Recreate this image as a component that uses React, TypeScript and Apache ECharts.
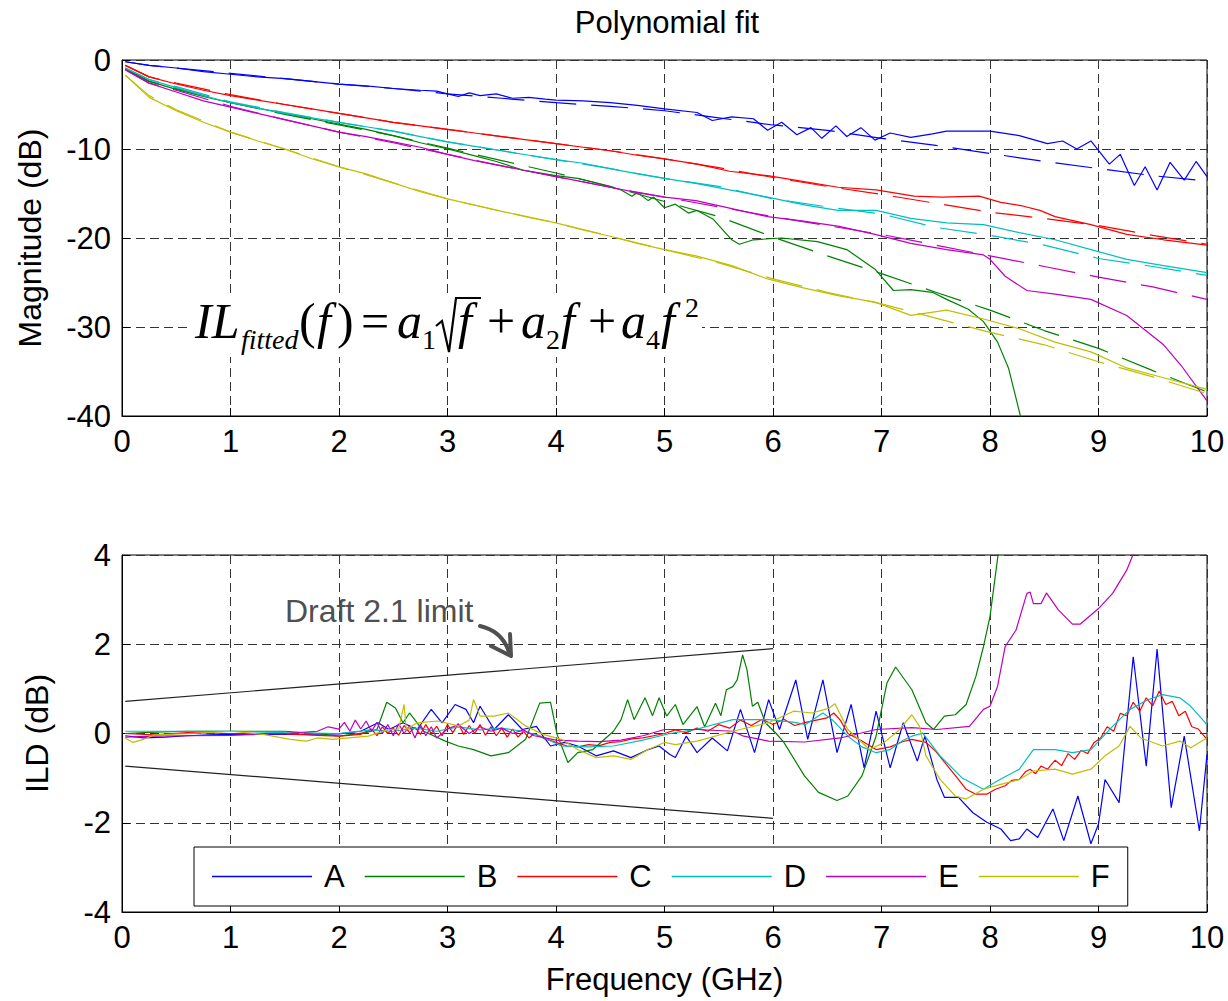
import React, { useEffect, useRef } from "react";
import * as echarts from "echarts";

// ---------- data ----------
const seriesNames = ["A", "B", "C", "D", "E", "F"];
const seriesColors = ["#0000ff", "#008000", "#ff0000", "#00bfbf", "#bf00bf", "#bfbf00"];
const xTicks = [0, 1, 2, 3, 4, 5, 6, 7, 8, 9, 10];
const magTicks = [-40, -30, -20, -10, 0];
const ildTicks = [-4, -2, 0, 2, 4];

// Measured insertion loss (dB) vs frequency (GHz)
const measA: [number, number][] = [
  [0.03, -0.2], [0.25, -0.6], [0.5, -0.9], [0.75, -1.3], [1, -1.6], [1.25, -1.9], [1.5, -2.1], [1.75, -2.4],
  [2, -2.7], [2.25, -2.9], [2.5, -3.2], [2.75, -3.4], [2.9, -3.5], [3.0, -3.8], [3.1, -4.1], [3.2, -3.7],
  [3.3, -4.0], [3.45, -3.8], [3.6, -4.3], [3.75, -4.2], [3.9, -4.4], [4, -4.5], [4.25, -4.6], [4.5, -4.8],
  [4.75, -5.1], [5, -5.5], [5.3, -5.9], [5.44, -6.8], [5.62, -6.4], [5.82, -6.6], [5.95, -7.9], [6.08, -7.0],
  [6.22, -8.4], [6.35, -7.6], [6.45, -8.8], [6.58, -7.4], [6.68, -8.6], [6.81, -7.6], [6.94, -9.0], [7.08, -8.2],
  [7.27, -8.7], [7.47, -8.3], [7.6, -8.0], [8.0, -8.0], [8.27, -8.5], [8.53, -9.4], [8.67, -9.1], [8.8, -10.0],
  [8.93, -9.1], [9.1, -11.7], [9.2, -10.6], [9.33, -14.1], [9.43, -12.0], [9.54, -14.6], [9.66, -11.5],
  [9.79, -13.5], [9.9, -11.4], [10, -13.1],
];
const measB: [number, number][] = [
  [0.03, -1.0], [0.25, -2.4], [0.5, -3.3], [0.75, -4.1], [1, -4.8], [1.25, -5.4], [1.5, -6.0], [1.75, -6.6],
  [2, -7.2], [2.25, -7.8], [2.5, -8.5], [2.75, -9.3], [3, -10.0], [3.2, -10.6], [3.45, -11.4], [3.7, -12.4],
  [3.9, -12.8], [4, -13.0], [4.2, -13.3], [4.4, -13.9], [4.6, -14.6], [4.7, -15.3], [4.75, -14.9], [4.85, -15.8],
  [4.9, -15.4], [5.0, -16.6], [5.1, -16.2], [5.22, -17.2], [5.3, -16.9], [5.45, -17.9], [5.62, -20.2],
  [5.69, -20.7], [5.82, -20.2], [6.08, -20.0], [6.41, -20.4], [6.68, -21.3], [6.94, -23.5], [7.11, -25.9],
  [7.27, -25.8], [7.47, -26.1], [7.6, -26.9], [7.8, -28.0], [7.94, -29.4], [8.07, -31.7], [8.17, -34.6],
  [8.25, -38.5], [8.3, -41.0],
];
const measC: [number, number][] = [
  [0.03, -0.6], [0.25, -1.9], [0.5, -2.7], [0.75, -3.4], [1, -4.0], [1.25, -4.5], [1.5, -5.0], [1.75, -5.5],
  [2, -6.0], [2.25, -6.5], [2.5, -7.0], [2.75, -7.4], [3, -7.8], [3.25, -8.2], [3.5, -8.6], [3.75, -9.0],
  [4, -9.4], [4.25, -9.8], [4.5, -10.2], [4.75, -10.7], [5, -11.1], [5.3, -11.7], [5.6, -12.5], [5.95, -13.0],
  [6.3, -13.7], [6.6, -14.3], [6.95, -14.6], [7.3, -15.3], [7.55, -15.4], [7.9, -15.3], [8.1, -16.0],
  [8.3, -16.4], [8.46, -16.9], [8.6, -17.6], [8.93, -18.5], [9.26, -19.6], [9.6, -20.2], [10, -20.8],
];
const measD: [number, number][] = [
  [0.03, -0.9], [0.25, -2.2], [0.5, -3.1], [0.75, -4.0], [1, -4.8], [1.25, -5.4], [1.5, -6.0], [1.75, -6.5],
  [2, -7.0], [2.25, -7.5], [2.5, -8.0], [2.75, -8.6], [3, -9.2], [3.25, -9.7], [3.5, -10.2], [3.75, -10.7],
  [4, -11.2], [4.25, -11.6], [4.5, -12.2], [4.75, -12.8], [5, -13.3], [5.3, -13.9], [5.6, -14.6], [5.95, -15.4],
  [6.3, -16.3], [6.6, -16.9], [6.95, -16.9], [7.27, -17.8], [7.6, -18.3], [7.94, -18.5], [8.27, -19.4],
  [8.6, -20.2], [8.93, -21.3], [9.26, -22.4], [9.6, -23.1], [10, -23.9],
];
const measE: [number, number][] = [
  [0.03, -1.1], [0.25, -2.6], [0.5, -3.6], [0.75, -4.6], [1, -5.3], [1.25, -6.0], [1.5, -6.7], [1.75, -7.4],
  [2, -8.1], [2.25, -8.6], [2.5, -9.2], [2.75, -9.8], [3, -10.6], [3.25, -11.3], [3.5, -11.9], [3.75, -12.5],
  [4, -13.1], [4.25, -13.7], [4.5, -14.3], [4.75, -14.9], [5, -15.4], [5.29, -15.8], [5.62, -16.7],
  [5.95, -17.6], [6.28, -18.1], [6.61, -18.7], [6.94, -19.6], [7.27, -20.6], [7.6, -21.3], [7.94, -21.9],
  [8.0, -22.4], [8.14, -24.3], [8.34, -25.9], [8.6, -26.3], [8.93, -26.9], [9.26, -28.7], [9.6, -32.0],
  [9.76, -34.3], [10, -38.3],
];
const measF: [number, number][] = [
  [0.03, -1.7], [0.25, -4.2], [0.5, -5.7], [0.75, -7.0], [1, -8.1], [1.25, -9.1], [1.5, -10.0], [1.75, -11.1],
  [2, -12.0], [2.25, -12.8], [2.5, -13.8], [2.75, -14.8], [3, -15.6], [3.25, -16.3], [3.5, -17.0],
  [3.75, -17.7], [4, -18.3], [4.25, -19.1], [4.5, -19.8], [4.75, -20.6], [5, -21.3], [5.29, -22.0],
  [5.62, -23.1], [5.95, -24.6], [6.28, -25.6], [6.61, -26.5], [6.94, -27.2], [7.27, -28.7], [7.6, -28.1],
  [7.94, -29.1], [8.27, -30.2], [8.6, -31.7], [8.93, -32.8], [9.26, -34.6], [9.6, -35.7], [10, -37.0],
];

// Polynomial fits (dB)
const fitA: [number, number][] = [
  [0.03, -0.2], [0.25, -0.6], [0.5, -0.9], [1, -1.5], [1.5, -2.1], [2, -2.7], [2.5, -3.2], [3, -3.8],
  [3.5, -4.3], [4, -4.8], [4.5, -5.2], [5, -5.7], [5.5, -6.5], [6, -7.3], [6.5, -7.9], [7, -8.8],
  [7.5, -9.6], [8, -10.5], [8.5, -11.4], [9, -12.2], [9.5, -13.0], [10, -13.6],
];
const fitB: [number, number][] = [
  [0.03, -1.0], [0.25, -2.4], [0.5, -3.2], [1, -4.8], [1.5, -6.1], [2, -7.3], [2.5, -8.5], [3, -9.9],
  [3.5, -11.3], [4, -12.7], [4.5, -14.2], [5, -15.9], [5.5, -17.6], [6, -19.9], [6.5, -22.0], [7, -24.0],
  [7.5, -26.1], [8, -28.1], [8.5, -30.4], [9, -32.4], [9.5, -34.9], [10, -37.3],
];
const fitC: [number, number][] = [
  [0.03, -0.6], [0.25, -1.9], [0.5, -2.6], [1, -3.9], [1.5, -5.0], [2, -6.0], [2.5, -7.0], [3, -7.8],
  [3.5, -8.6], [4, -9.4], [4.5, -10.2], [5, -11.1], [5.5, -12.1], [6, -13.2], [6.5, -14.2], [7, -15.1],
  [7.5, -16.1], [8, -17.1], [8.5, -17.8], [9, -18.6], [9.5, -19.7], [10, -20.7],
];
const fitD: [number, number][] = [
  [0.03, -0.9], [0.25, -2.2], [0.5, -3.0], [1, -4.7], [1.5, -5.9], [2, -7.0], [2.5, -8.0], [3, -9.2],
  [3.5, -10.2], [4, -11.2], [4.5, -12.2], [5, -13.3], [5.5, -14.2], [6, -15.6], [6.5, -16.5], [7, -17.3],
  [7.5, -18.8], [8, -19.7], [8.5, -20.8], [9, -22.3], [9.5, -23.2], [10, -24.2],
];
const fitE: [number, number][] = [
  [0.03, -1.1], [0.25, -2.6], [0.5, -3.4], [1, -5.2], [1.5, -6.7], [2, -8.1], [2.5, -9.3], [3, -10.6],
  [3.5, -11.9], [4, -13.1], [4.5, -14.3], [5, -15.4], [5.5, -16.5], [6, -17.6], [6.5, -18.6], [7, -19.6],
  [7.5, -20.8], [8, -22.0], [8.5, -23.2], [9, -24.4], [9.5, -25.5], [10, -26.9],
];
const fitF: [number, number][] = [
  [0.03, -1.7], [0.25, -4.0], [0.5, -5.6], [1, -8.1], [1.5, -10.0], [2, -12.0], [2.5, -13.8], [3, -15.6],
  [3.5, -17.0], [4, -18.3], [4.5, -19.8], [5, -21.3], [5.5, -22.8], [6, -24.6], [6.5, -26.1], [7, -27.4],
  [7.5, -29.0], [8, -30.6], [8.5, -32.0], [9, -33.9], [9.5, -35.6], [10, -37.5],
];

// Insertion loss deviation (dB)
const ildA: [number, number][] = [
  [0.03, -0.05], [0.2, -0.1], [0.4, -0.08], [0.6, -0.05], [0.8, -0.03], [1, -0.02], [1.5, -0.02], [2, -0.01],
  [2.2, 0.05], [2.36, 0.24], [2.46, 0.09], [2.59, 0.24], [2.72, 0.09], [2.85, 0.54], [2.95, 0.24], [3.07, 0.65],
  [3.17, 0.54], [3.24, 0.24], [3.3, 0.61], [3.43, 0.09], [3.56, 0.42], [3.69, 0.09], [3.82, 0.16], [3.88, -0.06],
  [3.95, -0.28], [4.08, -0.2], [4.2, -0.28], [4.37, -0.5], [4.53, -0.39], [4.69, -0.54], [4.85, -0.36],
  [4.95, -0.28], [5.05, -0.47], [5.1, -0.54], [5.2, -0.06], [5.3, -0.43], [5.44, -0.1], [5.58, -0.39],
  [5.7, 0.54], [5.83, -0.43], [5.96, 0.76], [6.06, 0.09], [6.21, 1.2], [6.32, -0.13], [6.46, 1.2], [6.59, -0.43],
  [6.72, 0.65], [6.84, -0.77], [6.95, 0.5], [7.08, -0.77], [7.2, 0.24], [7.33, -0.62], [7.4, -0.06],
  [7.51, -1.03], [7.58, -1.43], [7.71, -1.43], [7.84, -1.77], [7.97, -1.99], [8.1, -2.14], [8.19, -2.4],
  [8.27, -2.36], [8.34, -2.14], [8.44, -2.33], [8.58, -1.69], [8.68, -2.4], [8.81, -1.4], [8.93, -2.47],
  [9.0, -2.03], [9.06, -1.03], [9.19, -1.55], [9.32, 1.72], [9.44, -0.73], [9.54, 1.89], [9.67, -1.66],
  [9.79, -0.06], [9.93, -2.18], [10, -0.47],
];
const ildB: [number, number][] = [
  [0.03, 0.0], [0.3, 0.03], [0.6, 0.05], [1, 0.05], [1.5, 0.05], [1.8, 0.0], [2.0, -0.06], [2.25, 0.02],
  [2.35, 0.09], [2.44, 0.7], [2.52, 0.57], [2.59, 0.24], [2.65, 0.46], [2.78, 0.05], [2.98, -0.17], [3.1, -0.28],
  [3.24, -0.36], [3.4, -0.5], [3.56, -0.43], [3.72, -0.13], [3.85, 0.68], [3.95, 0.7], [4.01, -0.02],
  [4.11, -0.65], [4.2, -0.43], [4.34, -0.36], [4.53, 0.05], [4.6, 0.31], [4.66, 0.76], [4.72, 0.31], [4.82, 0.8],
  [4.89, 0.4], [4.95, 0.8], [5.02, 0.39], [5.1, 0.65], [5.17, 0.2], [5.3, 0.6], [5.37, 0.15], [5.47, 0.68],
  [5.52, 0.4], [5.57, 0.98], [5.63, 1.05], [5.67, 1.2], [5.72, 1.76], [5.76, 1.43], [5.81, 0.61], [5.86, 0.7],
  [5.93, 0.24], [6.03, 0], [6.1, -0.2], [6.29, -0.95], [6.42, -1.32], [6.59, -1.5], [6.69, -1.4], [6.82, -0.95],
  [6.95, -0.06], [7.05, 1.13], [7.13, 1.49], [7.28, 0.98], [7.41, 0.24], [7.48, 0.09], [7.58, 0.39],
  [7.68, 0.42], [7.78, 0.65], [7.87, 1.28], [7.94, 1.95], [8.0, 2.62], [8.09, 4.3],
];
const ildC: [number, number][] = [
  [0.03, 0.0], [0.3, -0.03], [0.6, 0.02], [1, 0.0], [1.4, 0.0], [1.8, -0.04], [2.0, -0.06], [2.2, -0.02],
  [2.3, 0.1], [2.35, -0.05], [2.4, 0.15], [2.45, 0.0], [2.5, 0.12], [2.55, -0.04], [2.6, 0.18], [2.65, 0.02],
  [2.7, 0.14], [2.75, -0.02], [2.8, 0.2], [2.85, 0.0], [2.9, 0.16], [2.95, -0.05], [3.0, 0.2], [3.05, 0.02],
  [3.1, 0.22], [3.15, -0.02], [3.2, 0.18], [3.25, 0.0], [3.3, 0.2], [3.35, -0.04], [3.4, 0.15], [3.45, -0.05],
  [3.5, 0.12], [3.55, -0.08], [3.6, 0.1], [3.65, -0.08], [3.7, 0.05], [3.75, -0.1], [3.8, 0.0], [3.9, -0.12],
  [4.0, -0.2], [4.1, -0.28], [4.2, -0.3], [4.3, -0.25], [4.4, -0.27], [4.5, -0.2], [4.6, -0.18], [4.7, -0.12],
  [4.8, -0.1], [4.9, -0.05], [5.0, 0.0], [5.1, 0.08], [5.2, 0.02], [5.3, 0.12], [5.4, 0.05], [5.5, 0.2],
  [5.6, 0.12], [5.7, 0.3], [5.8, 0.18], [5.9, 0.32], [6.0, 0.2], [6.1, 0.32], [6.2, 0.18], [6.3, 0.25],
  [6.4, 0.3], [6.5, 0.35], [6.56, 0.46], [6.62, 0.3], [6.69, 0.0], [6.82, -0.17], [6.95, -0.36], [7.08, -0.3],
  [7.2, -0.18], [7.28, -0.13], [7.41, -0.2], [7.5, -0.4], [7.61, -0.73], [7.7, -1.0], [7.78, -1.25],
  [7.87, -1.36], [7.97, -1.36], [8.05, -1.25], [8.14, -1.17], [8.2, -1.05], [8.27, -1.03], [8.33, -0.85],
  [8.37, -0.8], [8.42, -0.9], [8.47, -0.73], [8.53, -0.8], [8.6, -0.6], [8.66, -0.72], [8.72, -0.45],
  [8.78, -0.58], [8.84, -0.38], [8.9, -0.45], [8.96, -0.2], [9.02, -0.1], [9.08, 0.15], [9.14, 0.05],
  [9.2, 0.45], [9.26, 0.4], [9.32, 0.7], [9.38, 0.5], [9.44, 0.8], [9.5, 0.62], [9.56, 0.95], [9.62, 0.65],
  [9.68, 0.72], [9.74, 0.4], [9.8, 0.5], [9.86, 0.15], [9.92, 0.1], [10, -0.13],
];
const ildD: [number, number][] = [
  [0.03, 0.05], [0.5, 0.05], [1, 0.05], [1.5, 0.02], [2, 0.0], [2.3, 0.08], [2.5, 0.05], [2.7, 0.12],
  [2.9, 0.05], [3.1, 0.15], [3.3, 0.08], [3.5, 0.12], [3.7, 0.05], [3.85, -0.05], [4.05, -0.28], [4.3, -0.3],
  [4.53, -0.28], [4.8, -0.15], [5.05, 0.0], [5.3, 0.1], [5.63, 0.31], [5.96, 0.31], [6.2, 0.25], [6.3, 0.2],
  [6.46, 0.46], [6.55, 0.3], [6.69, -0.06], [6.82, -0.3], [6.95, -0.43], [7.08, -0.36], [7.2, -0.15],
  [7.28, -0.06], [7.38, 0.01], [7.54, -0.5], [7.74, -0.99], [7.94, -1.25], [8.07, -1.06], [8.27, -0.8],
  [8.4, -0.36], [8.6, -0.36], [8.76, -0.43], [8.93, -0.36], [9.13, 0.16], [9.29, 0.54], [9.45, 0.75],
  [9.59, 0.87], [9.75, 0.8], [9.85, 0.61], [10, 0.2],
];
const ildE: [number, number][] = [
  [0.03, -0.08], [0.3, -0.06], [0.6, -0.05], [1, -0.04], [1.5, 0.0], [1.8, 0.05], [1.9, 0.15], [2.0, 0.1],
  [2.05, 0.25], [2.1, 0.05], [2.15, 0.3], [2.2, 0.1], [2.25, 0.28], [2.3, 0.05], [2.35, 0.25], [2.4, 0.0],
  [2.45, 0.2], [2.5, -0.05], [2.55, 0.22], [2.6, 0.0], [2.65, 0.18], [2.7, -0.1], [2.75, 0.2], [2.8, -0.05],
  [2.85, 0.15], [2.9, -0.1], [3.0, 0.1], [3.1, 0.2], [3.2, 0.0], [3.3, 0.15], [3.4, 0.05], [3.5, 0.12],
  [3.6, 0.0], [3.7, 0.08], [3.8, -0.05], [3.9, -0.1], [4.0, -0.15], [4.2, -0.17], [4.4, -0.18], [4.6, -0.15],
  [4.8, -0.05], [5.0, 0.09], [5.3, 0.09], [5.63, 0.05], [5.73, -0.06], [5.96, -0.17], [6.29, -0.19],
  [6.62, -0.1], [6.95, 0.09], [7.28, 0.13], [7.51, 0.09], [7.81, 0.16], [7.94, 0.54], [8.0, 0.61],
  [8.07, 1.06], [8.14, 1.95], [8.24, 2.32], [8.34, 3.14], [8.37, 3.17], [8.4, 2.91], [8.47, 2.91],
  [8.52, 3.15], [8.63, 2.77], [8.76, 2.45], [8.83, 2.45], [9.0, 2.8], [9.13, 3.14], [9.26, 3.66], [9.35, 4.2],
];
const ildF: [number, number][] = [
  [0.03, -0.1], [0.1, -0.2], [0.2, -0.13], [0.3, -0.03], [0.65, 0.0], [1.0, 0.05], [1.3, -0.02], [1.55, -0.13],
  [1.7, -0.17], [1.8, -0.1], [1.94, -0.13], [2.27, -0.06], [2.45, 0.09], [2.55, 0.1], [2.6, 0.65], [2.62, 0.09],
  [2.72, 0.24], [2.91, 0.28], [3.1, 0.17], [3.2, 0.3], [3.24, 0.76], [3.3, 0.39], [3.43, 0.39], [3.56, 0.46],
  [3.72, 0.17], [3.88, -0.02], [4.05, -0.13], [4.2, -0.36], [4.37, -0.54], [4.53, -0.5], [4.69, -0.58],
  [4.85, -0.36], [5.0, -0.2], [5.1, -0.25], [5.3, -0.17], [5.63, 0.05], [5.96, 0.24], [6.19, 0.5], [6.36, 0.46],
  [6.52, 0.57], [6.57, 0.67], [6.69, 0.09], [6.89, -0.36], [7.02, -0.21], [7.15, 0.05], [7.28, 0.42],
  [7.35, 0.16], [7.41, -0.5], [7.54, -1.03], [7.68, -1.4], [7.78, -1.47], [7.94, -1.25], [8.1, -1.14],
  [8.27, -1.03], [8.4, -0.84], [8.6, -0.8], [8.76, -0.91], [8.93, -0.8], [9.06, -0.5], [9.19, -0.28],
  [9.29, 0.16], [9.39, -0.1], [9.59, -0.28], [9.75, -0.17], [9.85, -0.32], [10, -0.1],
];

// Draft 2.1 ILD limit lines
const limitUpper: [number, number][] = [[0.03, 0.72], [6, 1.9]];
const limitLower: [number, number][] = [[0.03, -0.73], [6, -1.9]];

const measured = [measA, measB, measC, measD, measE, measF];
const fitted = [fitA, fitB, fitC, fitD, fitE, fitF];
const ild = [ildA, ildB, ildC, ildD, ildE, ildF];

// ---------- styles ----------
const SANS = '"Liberation Sans", Arial, sans-serif';
const SERIF = '"Liberation Serif", "Times New Roman", serif';
const GRID_DASH = { color: "#333", width: 1, type: [9, 5] as number[] };

function xAxisCfg(gridIndex: number, withName: boolean) {
  return {
    type: "value",
    gridIndex,
    min: xTicks[0],
    max: xTicks[xTicks.length - 1],
    interval: 1,
    name: withName ? "Frequency (GHz)" : "",
    nameLocation: "middle",
    nameGap: 52,
    nameTextStyle: { fontSize: 31, fontFamily: SANS, color: "#000" },
    axisLine: { show: true, onZero: false, lineStyle: { color: "#000", width: 1 } },
    axisTick: { show: true, inside: true, length: 8, lineStyle: { color: "#000" } },
    axisLabel: { fontSize: 31, fontFamily: SANS, color: "#000", margin: 10 },
    splitLine: { show: true, lineStyle: GRID_DASH },
  };
}

function yAxisCfg(gridIndex: number, ticks: number[], name: string, gap: number) {
  return {
    type: "value",
    gridIndex,
    min: ticks[0],
    max: ticks[ticks.length - 1],
    interval: ticks[1] - ticks[0],
    name,
    nameLocation: "middle",
    nameGap: gap,
    nameTextStyle: { fontSize: 32, fontFamily: SANS, color: "#000" },
    axisLine: { show: true, onZero: false, lineStyle: { color: "#000", width: 1 } },
    axisTick: { show: true, inside: true, length: 8, lineStyle: { color: "#000" } },
    axisLabel: { fontSize: 31, fontFamily: SANS, color: "#000", margin: 11 },
    splitLine: { show: true, lineStyle: GRID_DASH },
  };
}

function eqText(text: string, x: number, y: number, size: number, italic: boolean) {
  return {
    type: "text",
    x,
    y,
    z: 20,
    style: {
      text,
      font: `${italic ? "italic " : ""}${size}px ${SERIF}`,
      fill: "#000",
      align: "left",
      verticalAlign: "middle",
    },
  };
}

export default function App() {
  const ref = useRef<HTMLDivElement>(null);

  useEffect(() => {
    document.body.style.margin = "0";
    if (!ref.current) return;
    const chart = echarts.init(ref.current, undefined, { renderer: "svg" });

    const series: any[] = [];
    seriesNames.forEach((n, i) => {
      series.push({
        name: `${n} measured`,
        type: "line",
        xAxisIndex: 0,
        yAxisIndex: 0,
        data: measured[i],
        showSymbol: false,
        symbol: "none",
        color: seriesColors[i],
        lineStyle: { color: seriesColors[i], width: 1.2 },
        z: 3,
      });
      series.push({
        name: `${n} fitted`,
        type: "line",
        xAxisIndex: 0,
        yAxisIndex: 0,
        data: fitted[i],
        showSymbol: false,
        symbol: "none",
        color: seriesColors[i],
        lineStyle: { color: seriesColors[i], width: 1.2, type: [37, 15] },
        z: 3,
      });
    });
    seriesNames.forEach((n, i) => {
      series.push({
        name: n,
        type: "line",
        xAxisIndex: 1,
        yAxisIndex: 1,
        data: ild[i],
        showSymbol: false,
        symbol: "none",
        color: seriesColors[i],
        lineStyle: { color: seriesColors[i], width: 1.2 },
        z: 3,
      });
    });
    [limitUpper, limitLower].forEach((d, k) => {
      series.push({
        name: k === 0 ? "limit upper" : "limit lower",
        type: "line",
        xAxisIndex: 1,
        yAxisIndex: 1,
        data: d,
        showSymbol: false,
        symbol: "none",
        color: "#222",
        lineStyle: { color: "#222", width: 1.2 },
        z: 3,
      });
    });

    const option: any = {
      animation: false,
      backgroundColor: "#fff",
      title: {
        text: "Polynomial fit",
        left: 662,
        top: 2,
        textAlign: "center",
        textStyle: { fontSize: 31, fontWeight: "normal", fontFamily: SANS, color: "#000" },
      },
      grid: [
        { left: 122, top: 60, width: 1085, height: 356, show: true, borderColor: "#000", borderWidth: 1, backgroundColor: "#fff" },
        { left: 122, top: 555, width: 1085, height: 357, show: true, borderColor: "#000", borderWidth: 1, backgroundColor: "#fff" },
      ],
      xAxis: [xAxisCfg(0, false), xAxisCfg(1, true)],
      yAxis: [yAxisCfg(0, magTicks, "Magnitude (dB)", 76), yAxisCfg(1, ildTicks, "ILD (dB)", 69)],
      legend: {
        data: seriesNames,
        left: 194,
        top: 847,
        orient: "horizontal",
        icon: "rect",
        itemWidth: 100,
        itemHeight: 1.5,
        itemGap: 20,
        padding: [14, 18, 14, 18],
        backgroundColor: "#fff",
        borderColor: "#000",
        borderWidth: 1,
        borderRadius: 0,
        selectedMode: false,
        textStyle: { fontSize: 31, fontFamily: SANS, color: "#000", padding: [0, 0, 0, 7] },
        z: 10,
      },
      graphic: [
        { type: "rect", z: 15, shape: { x: 188, y: 293, width: 514, height: 64 }, style: { fill: "#fff" } },
        eqText("IL", 195, 321, 50, true),
        eqText("fitted", 241, 339, 28, true),
        eqText("(", 299, 321, 50, false),
        eqText("f", 317, 321, 50, true),
        eqText(")", 337, 321, 50, false),
        eqText("=", 361, 321, 50, false),
        eqText("a", 397, 321, 50, true),
        eqText("1", 422, 339, 28, false),
        {
          type: "polyline",
          z: 20,
          shape: { points: [[436, 326], [442, 321], [449, 352], [456, 298], [481, 298]] },
          style: { stroke: "#000", lineWidth: 2.2, fill: null },
        },
        eqText("f", 458, 321, 50, true),
        eqText("+", 487, 321, 50, false),
        eqText("a", 521, 321, 50, true),
        eqText("2", 546, 339, 28, false),
        eqText("f", 561, 321, 50, true),
        eqText("+", 588, 321, 50, false),
        eqText("a", 621, 321, 50, true),
        eqText("4", 646, 339, 28, false),
        eqText("f", 661, 321, 50, true),
        eqText("2", 685, 307, 28, false),
        {
          type: "text",
          x: 285,
          y: 611,
          z: 20,
          style: {
            text: "Draft 2.1 limit",
            font: `32px ${SANS}`,
            fill: "#505050",
            align: "left",
            verticalAlign: "middle",
          },
        },
        {
          type: "bezierCurve",
          z: 20,
          shape: { x1: 480, y1: 626, cpx1: 502, cpy1: 631, x2: 509, y2: 652 },
          style: { stroke: "#505050", lineWidth: 4, fill: null, lineCap: "round" },
        },
        {
          type: "polyline",
          z: 20,
          shape: { points: [[491, 646], [511, 656], [510, 634]] },
          style: { stroke: "#505050", lineWidth: 4, fill: null, lineCap: "round", lineJoin: "round" },
        },
      ],
      series,
    };

    chart.setOption(option);
    return () => {
      chart.dispose();
    };
  }, []);

  return (
    <div
      ref={ref}
      style={{ position: "absolute", left: 0, top: 0, width: 1228, height: 1001, background: "#fff" }}
    />
  );
}
